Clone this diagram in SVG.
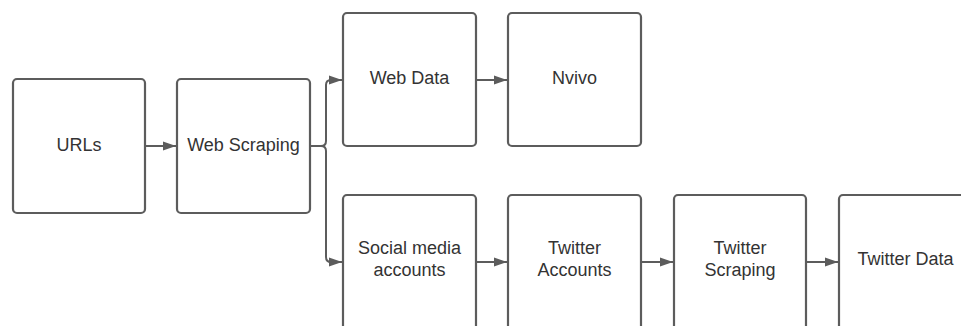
<svg xmlns="http://www.w3.org/2000/svg" width="961" height="326" viewBox="0 0 961 326">
<style>
.box{fill:#fff;stroke:#5c5c5c;stroke-width:2.2}
.lbl{font-family:"Liberation Sans",Arial,sans-serif;font-size:18px;fill:#333;text-anchor:middle}
.con{fill:none;stroke:#5c5c5c;stroke-width:2}
</style>
<defs>
<marker id="ah" markerUnits="userSpaceOnUse" markerWidth="14" markerHeight="10" refX="13" refY="5" orient="auto">
<path d="M0,0.5 L13,5 L0,9.5 Z" fill="#5c5c5c"/>
</marker>
</defs>
<rect width="961" height="326" fill="#fff"/>
<g id="connectors">
<path class="con" d="M145,146 H176" marker-end="url(#ah)"/>
<path class="con" d="M310,146 H321 Q326,146 326,141 V85 Q326,80 331,80 H342" marker-end="url(#ah)"/>
<path class="con" d="M321,146 Q326,146 326,151 V257 Q326,262 331,262 H342" marker-end="url(#ah)"/>
<path class="con" d="M476,80 H507" marker-end="url(#ah)"/>
<path class="con" d="M476,262 H507" marker-end="url(#ah)"/>
<path class="con" d="M641,262 H673" marker-end="url(#ah)"/>
<path class="con" d="M806,262 H838" marker-end="url(#ah)"/>
</g>
<g id="urls"><rect class="box" x="13" y="79" width="132" height="134" rx="4"/><text class="lbl" x="79" y="151">URLs</text></g>
<g id="web-scraping"><rect class="box" x="177" y="79" width="133" height="134" rx="4"/><text class="lbl" x="243.5" y="151">Web Scraping</text></g>
<g id="web-data"><rect class="box" x="343" y="13" width="133" height="133" rx="4"/><text class="lbl" x="409.5" y="84">Web Data</text></g>
<g id="nvivo"><rect class="box" x="508" y="13" width="133" height="133" rx="4"/><text class="lbl" x="574.5" y="84">Nvivo</text></g>
<g id="social-media"><rect class="box" x="343" y="195" width="133" height="140" rx="4"/><text class="lbl" x="409.5" y="254">Social media</text><text class="lbl" x="409.5" y="276">accounts</text></g>
<g id="twitter-accounts"><rect class="box" x="508" y="195" width="133" height="140" rx="4"/><text class="lbl" x="574.5" y="254">Twitter</text><text class="lbl" x="574.5" y="276">Accounts</text></g>
<g id="twitter-scraping"><rect class="box" x="674" y="195" width="132" height="140" rx="4"/><text class="lbl" x="740" y="254">Twitter</text><text class="lbl" x="740" y="276">Scraping</text></g>
<g id="twitter-data"><rect class="box" x="839" y="195" width="133" height="140" rx="4"/><text class="lbl" x="905.5" y="265">Twitter Data</text></g>
</svg>
